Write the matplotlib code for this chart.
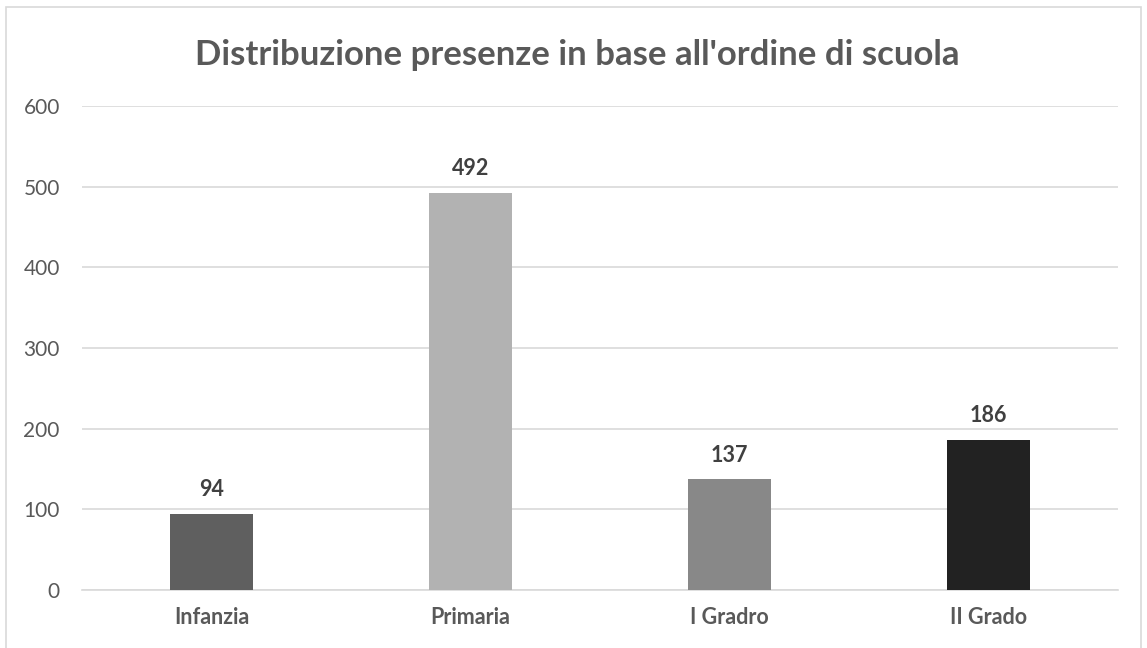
import matplotlib.pyplot as plt
from matplotlib.patches import Rectangle

# chart data
categories = ["Infanzia", "Primaria", "I Gradro", "II Grado"]
values = [94, 492, 137, 186]
bar_colors = ["#5f5f5f", "#b2b2b2", "#888888", "#222222"]
y_ticks = [0, 100, 200, 300, 400, 500, 600]

text_color = "#595959"
plt.rcParams['font.family'] = ['Lato', 'DejaVu Sans']

W, H = 1147, 648
fig = plt.figure(figsize=(W / 100, H / 100), dpi=100)

# outer chart frame (bottom edge is cut off in the reference)
fig.patches.append(Rectangle((6 / W, -0.05), 1135 / W, 1.05 - 7 / H,
                             transform=fig.transFigure, fill=False,
                             edgecolor="#d9d9d9", linewidth=1.2))

ax = fig.add_axes([82 / W, 1 - 590 / H, (1118 - 82) / W, (590 - 106) / H])
x = range(len(categories))
ax.bar(x, values, width=0.317, color=bar_colors, zorder=3)

ax.set_xlim(-0.5, len(categories) - 0.5)
ax.set_ylim(0, 600)
ax.set_yticks(y_ticks)
ax.set_yticklabels([str(t) for t in y_ticks], fontsize=15, color=text_color)
ax.set_xticks(list(x))
ax.set_xticklabels(categories, fontsize=15.5, fontweight="bold", color=text_color)
ax.tick_params(axis="both", length=0)
ax.tick_params(axis="x", pad=12)
ax.tick_params(axis="y", pad=16)
ax.grid(axis="y", color="#d9d9d9", linewidth=1.2, zorder=0)
for s in ["top", "right", "left"]:
    ax.spines[s].set_visible(False)
ax.spines["bottom"].set_color("#d9d9d9")
ax.spines["bottom"].set_linewidth(1.2)

for i, v in enumerate(values):
    ax.annotate(str(v), (i, v), xytext=(0, 10), textcoords="offset points",
                ha="center", va="bottom", fontsize=15.5, fontweight="bold",
                color="#404040")

fig.text(577 / W, 1 - 55 / H, "Distribuzione presenze in base all'ordine di scuola",
         ha="center", va="center", fontsize=25, fontweight="bold", color=text_color)

fig.savefig("out.png", dpi=100)
